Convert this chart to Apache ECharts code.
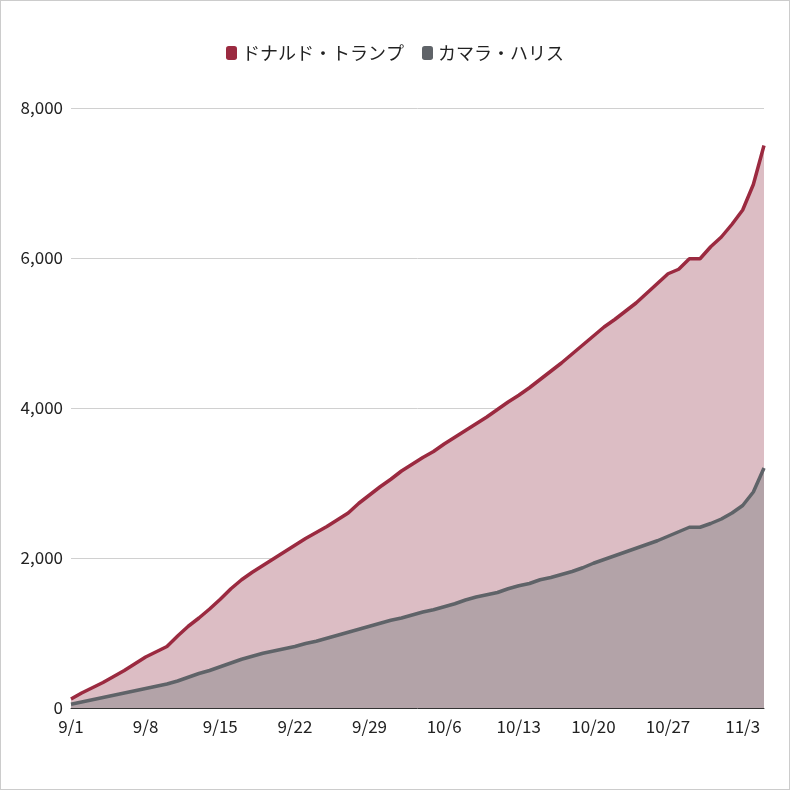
<!doctype html>
<html>
<head>
<meta charset="UTF-8">
<script src="https://cdn.jsdelivr.net/npm/echarts@6/dist/echarts.min.js"></script>
</head>
<body style="margin:0">
<div id="main" style="width:790px;height:790px;border:1px solid #ccc;box-sizing:border-box"></div>
<script>
var seriesNames = ['ドナルド・トランプ', 'カマラ・ハリス'];
var trump = [120,200,270,340,420,500,590,680,750,820,960,1090,1200,1320,1450,1590,1710,1810,1900,1990,2080,2170,2260,2340,2420,2510,2600,2730,2840,2950,3050,3160,3250,3340,3420,3520,3610,3700,3790,3880,3980,4080,4170,4270,4380,4490,4600,4720,4840,4960,5080,5180,5290,5400,5530,5660,5790,5850,5990,5990,6150,6280,6450,6640,6980,7500];
var harris = [50,80,110,140,170,200,230,260,290,320,360,410,460,500,550,600,650,690,730,760,790,820,860,890,930,970,1010,1050,1090,1130,1170,1200,1240,1280,1310,1350,1390,1440,1480,1510,1540,1590,1630,1660,1710,1740,1780,1820,1870,1930,1980,2030,2080,2130,2180,2230,2290,2350,2410,2410,2460,2520,2600,2700,2880,3200];
// dates 9/1 .. 11/5
var dates = [];
var d = new Date(2024, 8, 1);
for (var i = 0; i < trump.length; i++) {
    dates.push((d.getMonth() + 1) + '/' + d.getDate());
    d.setDate(d.getDate() + 1);
}
var font = '"Liberation Sans Narrow", "Noto Sans CJK JP", sans-serif';
var myChart = echarts.init(document.getElementById('main'));
option = {
    animation: false,
    textStyle: {fontFamily: font},
    legend: {
        top: 38,
        left: 'center',
        icon: 'roundRect',
        itemWidth: 11,
        itemHeight: 14,
        itemGap: 18,
        textStyle: {fontSize: 18, color: '#222', fontFamily: font},
        data: seriesNames
    },
    grid: {left: 70, right: 25, top: 107, bottom: 81},
    xAxis: {
        type: 'category',
        boundaryGap: false,
        data: dates,
        axisLine: {lineStyle: {color: '#333'}},
        axisTick: {show: false},
        axisLabel: {interval: 6, fontSize: 17, color: '#222', margin: 10}
    },
    yAxis: {
        type: 'value',
        min: 0,
        max: 8000,
        interval: 2000,
        axisLabel: {fontSize: 17, color: '#222', margin: 8},
        splitLine: {lineStyle: {color: '#d0d0d0'}}
    },
    series: [
        {
            name: seriesNames[0],
            type: 'line',
            data: trump,
            showSymbol: false,
            itemStyle: {color: '#9b2a40'},
            lineStyle: {width: 3.5, color: '#9b2a40'},
            areaStyle: {color: '#dcbdc4', opacity: 1}
        },
        {
            name: seriesNames[1],
            type: 'line',
            data: harris,
            showSymbol: false,
            itemStyle: {color: '#5f6368'},
            lineStyle: {width: 3.5, color: '#5f6368'},
            areaStyle: {color: '#b3a3a8', opacity: 1}
        }
    ]
};
myChart.setOption(option);
</script>
</body>
</html>
